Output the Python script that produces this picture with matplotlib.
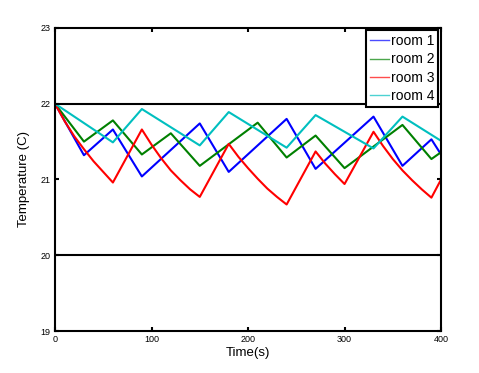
import matplotlib.pyplot as plt


t1 = [0, 30, 60, 90, 150, 180, 240, 270, 330, 360, 390, 400]
room1 = [22.0, 21.32, 21.66, 21.04, 21.74, 21.10, 21.80, 21.14, 21.83, 21.18, 21.53, 21.33]

t2 = [0, 30, 60, 90, 120, 150, 210, 240, 270, 300, 360, 390, 400]
room2 = [22.0, 21.50, 21.78, 21.33, 21.61, 21.18, 21.75, 21.29, 21.58, 21.15, 21.72, 21.27, 21.36]

t3 = [0, 10, 20, 30, 40, 50, 60, 90, 100, 110, 120, 130, 140, 150, 180, 190, 200, 210, 220, 230, 240,
      270, 280, 290, 300, 330, 340, 350, 360, 370, 380, 390, 400]
room3 = [22.0, 21.77, 21.57, 21.40, 21.24, 21.10, 20.96, 21.66, 21.46, 21.28, 21.12, 20.99, 20.87, 20.77,
         21.47, 21.30, 21.15, 21.01, 20.88, 20.77, 20.67,
         21.37, 21.21, 21.07, 20.94, 21.63, 21.44, 21.27, 21.12, 20.99, 20.87, 20.76, 21.00]

t4 = [0, 60, 90, 150, 180, 240, 270, 330, 360, 400]
room4 = [22.0, 21.49, 21.93, 21.45, 21.89, 21.42, 21.85, 21.41, 21.83, 21.51]

limits = [22, 20]


def main():
    plt.rcParams['font.family'] = ['Liberation Sans', 'DejaVu Sans']
    fig = plt.figure(figsize=(4.79, 3.73), dpi=100)
    ax = fig.add_axes([0.1148, 0.1126, 0.806, 0.8124])

    ax.plot(t1, room1, color=(0, 0, 1), lw=1.5, label='room 1')
    ax.plot(t2, room2, color=(0, 0.5, 0), lw=1.5, label='room 2')
    ax.plot(t3, room3, color=(1, 0, 0), lw=1.5, label='room 3')
    ax.plot(t4, room4, color=(0, 0.75, 0.75), lw=1.5, label='room 4')
    for v in limits:
        ax.axhline(v, color='black', lw=1.5)

    ax.set_xlim(0, 400)
    ax.set_ylim(19, 23)
    ax.set_xticks([0, 100, 200, 300, 400])
    ax.set_yticks([19, 20, 21, 22, 23])
    ax.tick_params(direction='in', top=True, right=True, labelsize=6.5,
                   width=1.5, length=3, pad=3)
    for s in ax.spines.values():
        s.set_linewidth(1.5)

    ax.set_xlabel('Time(s)', fontsize=9.5, labelpad=2)
    ax.set_ylabel('Temperature (C)', fontsize=9.5, labelpad=8)

    leg = ax.legend(loc='upper right', bbox_to_anchor=(0.993, 0.993), fontsize=10,
                    fancybox=False, shadow=False, borderaxespad=0.0,
                    handlelength=1.4, handletextpad=0.1, labelspacing=0.3,
                    borderpad=0.3, framealpha=1)
    leg.get_frame().set_edgecolor('black')
    leg.get_frame().set_linewidth(1.5)
    for h in leg.get_lines():
        h.set_linewidth(1.0)
        h.set_alpha(0.7)

    fig.savefig('out.png', dpi=100)


if __name__ == "__main__":
    main()
